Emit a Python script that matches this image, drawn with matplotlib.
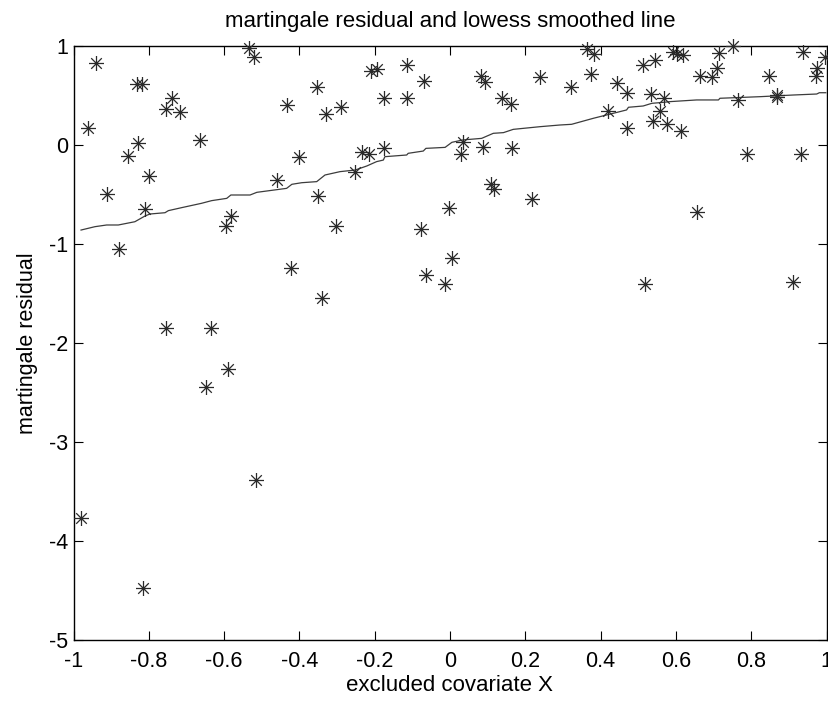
import matplotlib
matplotlib.use("Agg")
import matplotlib.pyplot as plt
from matplotlib.path import Path
import numpy as np

plt.rcParams['font.family'] = ['Liberation Sans', 'DejaVu Sans']

# scatter data: excluded covariate X vs martingale residual
x_pts = [-0.940, -0.962, -0.832, -0.819, -0.738, -0.754, -0.717, -0.828, -0.856, -0.663,
         -0.800, -0.912, -0.810, -0.534, -0.520, -0.432, -0.400, -0.460, -0.582, -0.595,
         -0.878, -0.423, -0.354, -0.330, -0.290, -0.211, -0.193, -0.114, -0.068, -0.174,
         -0.114, 0.082, 0.093, 0.139, 0.162, 0.240, 0.322, -0.233, -0.215, -0.174,
         -0.252, -0.350, -0.303, 0.034, 0.028, 0.088, 0.166, 0.108, 0.117, 0.219,
         -0.003, -0.077, 0.005, -0.340, -0.754, -0.636, -0.590, -0.649, -0.516, -0.980,
         -0.815, 0.365, 0.382, 0.374, 0.512, 0.545, 0.591, 0.604, 0.618, 0.714,
         0.752, 0.938, 0.996, 0.664, 0.697, 0.710, 0.848, 0.976, 0.972, 0.444,
         0.471, 0.420, 0.533, 0.568, 0.558, 0.538, 0.576, 0.614, 0.471, 0.766,
         0.869, 0.869, 0.789, 0.932, 0.655, -0.064, -0.013, 0.518, 0.912]
y_pts = [0.825, 0.169, 0.613, 0.613, 0.472, 0.364, 0.330, 0.017, -0.108, 0.051,
         -0.313, -0.495, -0.650, 0.976, 0.892, 0.404, -0.125, -0.354, -0.717, -0.818,
         -1.054, -1.245, 0.589, 0.313, 0.381, 0.751, 0.768, 0.808, 0.646, 0.472,
         0.472, 0.700, 0.633, 0.472, 0.414, 0.683, 0.590, -0.071, -0.091, -0.034,
         -0.269, -0.512, -0.815, 0.034, -0.094, -0.020, -0.034, -0.394, -0.444, -0.549,
         -0.640, -0.848, -1.145, -1.549, -1.845, -1.845, -2.263, -2.441, -3.384, -3.771,
         -4.472, 0.966, 0.919, 0.717, 0.808, 0.859, 0.943, 0.919, 0.909, 0.926,
         1.000, 0.943, 0.886, 0.700, 0.683, 0.775, 0.700, 0.775, 0.697, 0.630,
         0.522, 0.347, 0.512, 0.472, 0.347, 0.246, 0.209, 0.141, 0.169, 0.455,
         0.488, 0.505, -0.091, -0.091, -0.673, -1.313, -1.404, -1.404, -1.387]

# lowess smoothed line
x_lw = [-0.980, -0.943, -0.912, -0.881, -0.837, -0.810, -0.797, -0.757, -0.748, -0.713,
        -0.660, -0.633, -0.593, -0.582, -0.531, -0.513, -0.434, -0.420, -0.394, -0.354,
        -0.332, -0.292, -0.252, -0.221, -0.195, -0.177, -0.173, -0.115, -0.111, -0.071,
        -0.064, -0.013, 0.005, 0.034, 0.084, 0.115, 0.142, 0.168, 0.239, 0.292,
        0.323, 0.381, 0.469, 0.474, 0.513, 0.536, 0.567, 0.584, 0.655, 0.713,
        0.717, 0.823, 0.912, 0.974, 0.981, 0.998]
y_lw = [-0.859, -0.825, -0.808, -0.808, -0.775, -0.717, -0.697, -0.684, -0.663, -0.633,
        -0.589, -0.562, -0.539, -0.505, -0.505, -0.478, -0.438, -0.397, -0.381, -0.370,
        -0.303, -0.269, -0.253, -0.212, -0.168, -0.152, -0.118, -0.101, -0.084, -0.061,
        -0.034, -0.024, 0.027, 0.051, 0.067, 0.118, 0.125, 0.158, 0.185, 0.202,
        0.209, 0.270, 0.354, 0.381, 0.394, 0.421, 0.431, 0.438, 0.455, 0.455,
        0.472, 0.488, 0.505, 0.515, 0.528, 0.528]

x_ticks = [-1, -0.8, -0.6, -0.4, -0.2, 0, 0.2, 0.4, 0.6, 0.8, 1]
x_ticklabels = ['-1', '-0.8', '-0.6', '-0.4', '-0.2', '0', '0.2', '0.4', '0.6', '0.8', '1']
y_ticks = [-5, -4, -3, -2, -1, 0, 1]
y_ticklabels = ['-5', '-4', '-3', '-2', '-1', '0', '1']

# MATLAB-like asterisk marker (plus + x)
d = 0.7071
verts = [(-1, 0), (1, 0), (0, -1), (0, 1), (-d, -d), (d, d), (-d, d), (d, -d)]
codes = [Path.MOVETO, Path.LINETO] * 4
star = Path(verts, codes)

fig = plt.figure(figsize=(8.29, 7.06), dpi=100)
ax = fig.add_axes([73.5 / 829, 66 / 706, 753 / 829, 594 / 706])

ax.plot(x_pts, y_pts, linestyle='none', marker=star, markersize=10.8,
        markeredgewidth=0.9, markeredgecolor='#2a2a2a', markerfacecolor='none',
        clip_on=False, zorder=3)
ax.plot(x_lw, y_lw, color='#3c3c3c', linewidth=0.9, zorder=2)

ax.set_xlim(-1, 1)
ax.set_ylim(-5, 1)
ax.set_xticks(x_ticks)
ax.set_xticklabels(x_ticklabels)
ax.set_yticks(y_ticks)
ax.set_yticklabels(y_ticklabels)
ax.tick_params(direction='in', length=6.5, width=0.8, top=True, right=True,
               labelsize=15.5, colors='black')
ax.tick_params(axis='x', pad=8)
ax.tick_params(axis='y', pad=4)
for s in ax.spines.values():
    s.set_linewidth(1.0)
    s.set_color('black')

ax.set_title('martingale residual and lowess smoothed line', fontsize=16, pad=14)
ax.set_xlabel('excluded covariate X', fontsize=16, labelpad=2)
ax.set_ylabel('martingale residual', fontsize=15.5, labelpad=8)

fig.savefig('out.png', dpi=100)
